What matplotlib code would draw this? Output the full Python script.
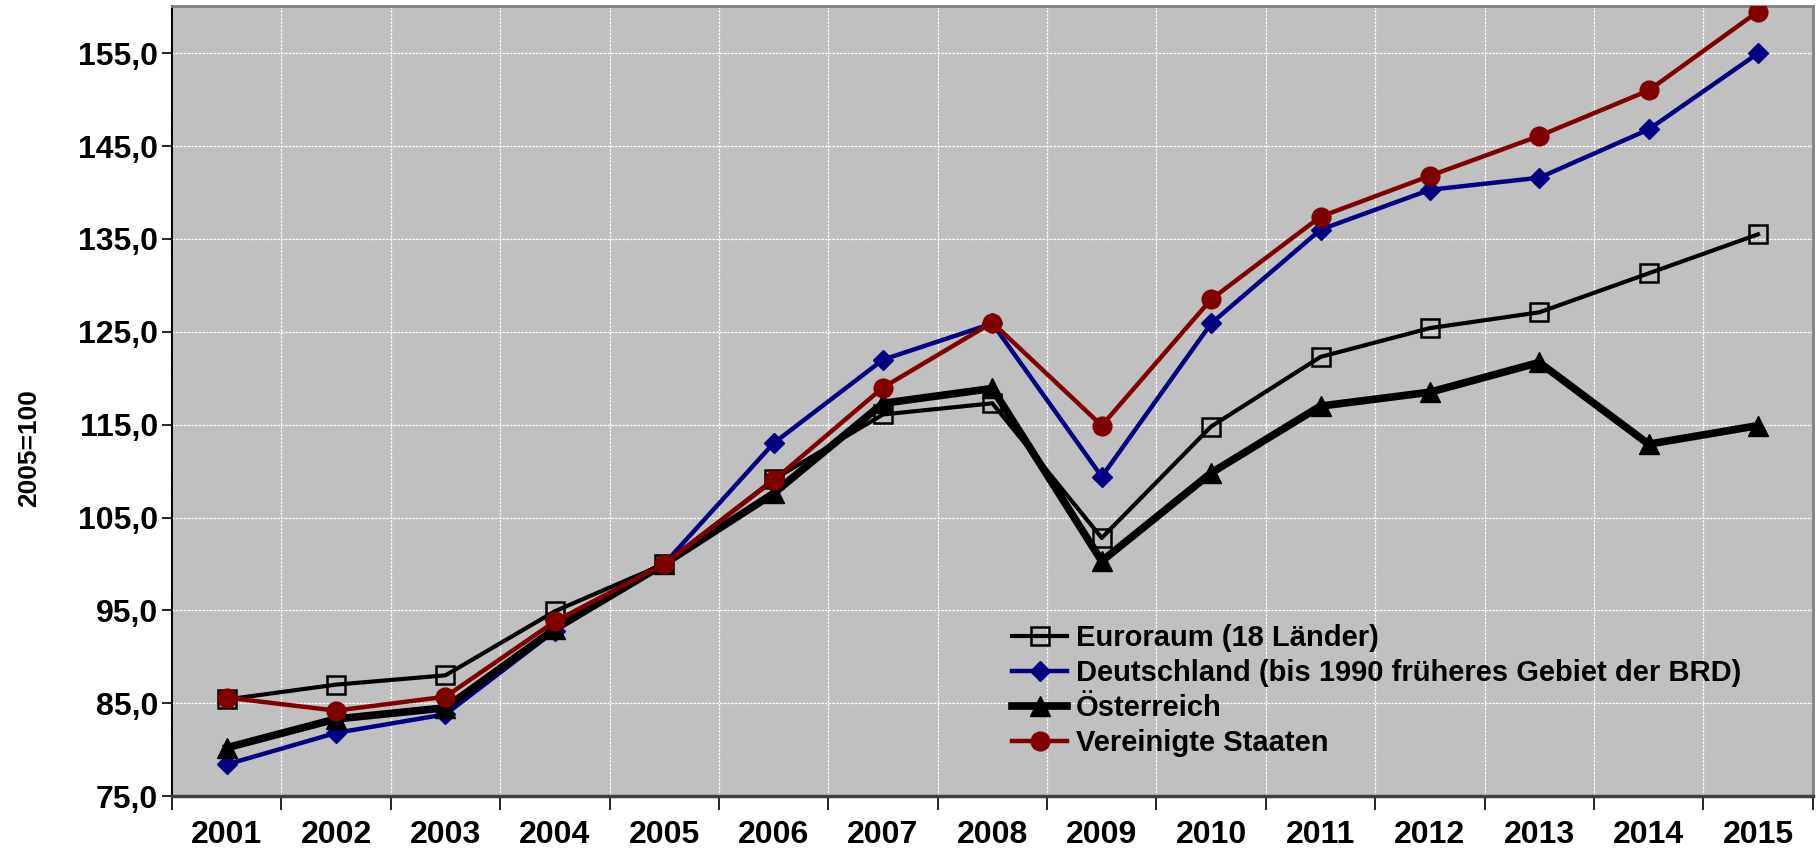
import matplotlib
matplotlib.use("Agg")
import matplotlib.pyplot as plt
from matplotlib.ticker import FixedLocator

# Index values, 2005 = 100
years = ["2001", "2002", "2003", "2004", "2005", "2006", "2007", "2008",
         "2009", "2010", "2011", "2012", "2013", "2014", "2015"]

euroraum = [85.4, 87.0, 88.0, 94.9, 100.0, 109.1, 116.1, 117.3,
            102.8, 114.8, 122.3, 125.4, 127.1, 131.3, 135.5]
deutschland = [78.4, 81.8, 83.8, 92.8, 100.0, 113.0, 122.0, 125.9,
               109.4, 125.9, 136.0, 140.3, 141.6, 146.8, 155.0]
oesterreich = [80.2, 83.3, 84.5, 93.0, 100.0, 107.6, 117.3, 118.9,
               100.3, 109.8, 117.0, 118.5, 121.7, 112.9, 114.9]
usa = [85.6, 84.2, 85.7, 93.8, 100.0, 109.0, 119.0, 126.0,
       114.9, 128.5, 137.4, 141.8, 146.1, 151.0, 159.5]

series_labels = ["Euroraum (18 Länder)",
                 "Deutschland (bis 1990 früheres Gebiet der BRD)",
                 "Österreich",
                 "Vereinigte Staaten"]

y_ticks = [75, 85, 95, 105, 115, 125, 135, 145, 155]

fonts = ["Liberation Sans", "DejaVu Sans"]

fig = plt.figure(figsize=(18.2, 8.52), dpi=100)
ax = fig.add_axes([0.0945, 0.0657, 0.9015, 0.9273])
ax.set_facecolor("#C0C0C0")

x = list(range(len(years)))

ax.plot(x, euroraum, color="black", lw=3.0, marker="s", ms=13,
        mfc="none", mec="black", mew=1.8, label=series_labels[0], zorder=3)
ax.plot(x, deutschland, color="#000080", lw=3.2, marker="D", ms=10.5,
        mfc="#000080", mec="#000080", label=series_labels[1], zorder=4)
ax.plot(x, oesterreich, color="black", lw=5.5, marker="^", ms=14,
        mfc="black", mec="black", label=series_labels[2], zorder=5)
ax.plot(x, usa, color="#800000", lw=3.2, marker="o", ms=13.5,
        mfc="#800000", mec="#800000", label=series_labels[3], zorder=6)

ax.set_xlim(-0.5, len(years) - 0.5)
ax.set_ylim(75, 160.1)

# y axis
ax.yaxis.set_major_locator(FixedLocator(y_ticks))
ax.set_yticklabels([f"{v:.1f}".replace(".", ",") for v in y_ticks],
                   fontfamily=fonts, fontweight="bold", fontsize=23)
ax.tick_params(axis="y", which="major", direction="out", length=7,
               width=1.2, color="black", pad=3)

# x axis: labels at categories, ticks between them
ax.xaxis.set_major_locator(FixedLocator(x))
ax.set_xticklabels(years, fontfamily=fonts, fontweight="bold", fontsize=23)
ax.xaxis.set_minor_locator(FixedLocator([i - 0.5 for i in range(len(years) + 1)]))
ax.tick_params(axis="x", which="major", length=0, pad=17)
ax.tick_params(axis="x", which="minor", direction="out", length=10,
               width=1.2, color="black")

# grid
ax.grid(True, axis="y", which="major", color="white", ls=(0, (2, 1)), lw=0.9)
ax.grid(True, axis="x", which="minor", color="white", ls=(0, (2, 1)), lw=0.9)
ax.set_axisbelow(True)

for side in ("top", "right"):
    ax.spines[side].set_color("#808080")
    ax.spines[side].set_linewidth(2)
ax.spines["left"].set_color("black")
ax.spines["left"].set_linewidth(1.5)
ax.spines["bottom"].set_color("#404040")
ax.spines["bottom"].set_linewidth(2.5)

ax.set_ylabel("2005=100", fontfamily=fonts, fontweight="bold", fontsize=19)
ax.yaxis.set_label_coords(-0.080, 0.44)

leg = ax.legend(loc="upper left", bbox_to_anchor=(0.512, 0.218),
                frameon=False, borderaxespad=0, borderpad=0,
                handlelength=1.9, handletextpad=0.3, labelspacing=0.24,
                prop={"family": fonts, "weight": "bold", "size": 21})

fig.savefig("out.png", dpi=100, facecolor="white")
